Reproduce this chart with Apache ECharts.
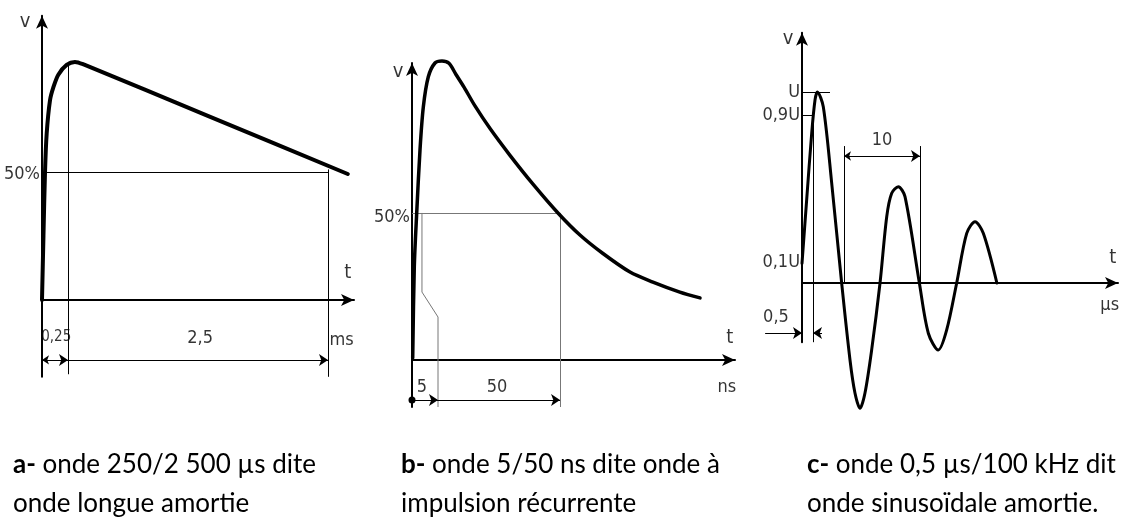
<!DOCTYPE html>
<html>
<head>
<meta charset="utf-8">
<script src="https://cdn.jsdelivr.net/npm/echarts@6/dist/echarts.min.js"></script>
<style>
  html, body { margin: 0; padding: 0; background: #fff; }
  #main { width: 1121px; height: 518px; }
</style>
</head>
<body>
<div id="main"></div>
<script>
// --- onde a : 250/2500 µs (t en ms, v en %)
var tA = [0, 0.014, 0.029, 0.045, 0.077, 0.109, 0.157, 0.237, 0.317, 0.4, 1.6, 2.94];
var vA = [0, 25, 50, 65, 78, 83, 88, 91.8, 93, 92, 71.8, 49.2];
var marksA = [0, 0.25, 2.75];          // 0 / 0,25 / 2,75 ms
var textA = ['0,25', '2,5', 'ms'];

// --- onde b : 5/50 ns (axe schématique, v en %)
var tB = [0.26, 0.85, 1.75, 2.97, 4.2, 6.06, 8.54, 11.14, 13.74, 16.34, 19.32, 23.4, 29.0, 36.4, 44.95, 54.23, 62.4, 70.95, 80.98, 89.5, 99.5, 107];
var vB = [0.7, 31.6, 50, 71.4, 86, 96.3, 101, 101.7, 100.9, 97.1, 92.8, 86.4, 78.7, 69.6, 59.8, 50, 42.5, 36.2, 29.9, 26.5, 23.1, 21.1];
var marksB = [0, 9.66, 55];
var textB = ['5', '50', 'ns'];

// --- onde c : 0,5 µs / 100 kHz (v en U)
var tC = [0, 0.62, 1.29, 1.73, 2.04, 2.83, 3.95, 5.27, 6.38, 7.04, 7.71, 8.37, 9.26, 10.37, 11.26, 11.92, 12.8, 13.69, 15.6, 16.79, 18.12, 19.23, 20.56, 21.89, 23, 24.1, 25.9];
var vC = [0.103, 0.435, 0.785, 0.958, 1.0, 0.923, 0.522, 0, -0.403, -0.576, -0.656, -0.576, -0.35, 0, 0.347, 0.47, 0.504, 0.452, 0, -0.263, -0.351, -0.246, 0, 0.26, 0.321, 0.26, 0];
var marksC = [1.46, 5.58, 15.68];
var levelsC = [1, 0.88, 0.11];
var levelTextC = ['U', '0,9U', '0,1U'];
var textC = ['10', '0,5', 'µs'];

var captions = [
    ['a-', 'onde 250/2 500 µs dite', 'onde longue amortie'],
    ['b-', 'onde 5/50 ns dite onde à', 'impulsion récurrente'],
    ['c-', 'onde 0,5 µs/100 kHz dit', 'onde sinusoïdale amortie.']
];

var fontDiag = '"DejaVu Sans Condensed", "Liberation Sans Narrow", sans-serif';
var fontText = 'Lato, "Open Sans", sans-serif';

var myChart = echarts.init(document.getElementById('main'));

function zip(xs, ys) {
    return xs.map(function (x, i) { return [x, ys[i]]; });
}

function axis(gi, min, max) {
    return {
        type: 'value', gridIndex: gi, min: min, max: max,
        axisLine: { onZero: true, symbol: ['none', 'arrow'], symbolSize: [9, 13], lineStyle: { color: '#000', width: 2 } },
        axisTick: { show: false }, axisLabel: { show: false }, splitLine: { show: false }
    };
}

function curve(gi, xs, ys, w) {
    return {
        type: 'line', xAxisIndex: gi, yAxisIndex: gi, data: zip(xs, ys),
        smooth: 0.3, showSymbol: false, clip: false, silent: true,
        lineStyle: { color: '#000', width: w, cap: 'round', join: 'round' }
    };
}

function guides(gi, segs, color, sym, poly) {
    return {
        type: 'lines', coordinateSystem: 'cartesian2d', xAxisIndex: gi, yAxisIndex: gi,
        polyline: !!poly, clip: false, silent: true,
        symbol: sym || 'none', symbolSize: [7, 9],
        lineStyle: { color: color, width: 1, opacity: 1, curveness: 0 },
        data: segs.map(function (c) { return { coords: c }; })
    };
}

function texts(gi, items, pos, size) {
    return {
        type: 'scatter', xAxisIndex: gi, yAxisIndex: gi, symbolSize: 0, clip: false, silent: true,
        data: items,
        label: {
            show: true, position: pos, distance: 2, color: '#000',
            fontFamily: fontDiag, fontSize: size || 18,
            formatter: function (p) { return p.value[2]; }
        }
    };
}

var option = {
    backgroundColor: '#fff',
    animation: false,
    title: captions.map(function (c, i) {
        return {
            left: [13, 401, 807][i], top: 445, padding: 0,
            text: '{b|' + c[0] + '} ' + c[1] + '\n' + c[2],
            textStyle: {
                fontFamily: fontText, fontSize: 26, fontWeight: 'normal', color: '#000', lineHeight: 39,
                rich: { b: { fontFamily: fontText, fontSize: 26, fontWeight: 'bold', color: '#000', lineHeight: 39 } }
            }
        };
    }),
    grid: [
        { left: 42, top: 15.8, width: 312, height: 361 },
        { left: 412, top: 63, width: 323, height: 344 },
        { left: 802, top: 32.8, width: 316, height: 309.4 }
    ],
    xAxis: [axis(0, 0, 3), axis(1, 0, 120), axis(2, 0, 42)],
    yAxis: [axis(0, -30, 111), axis(1, -16, 101), axis(2, -0.31, 1.31)],
    series: [
        // a
        curve(0, tA, vA, 4),
        guides(0, [
            [[marksA[0], 50], [marksA[2], 50]],
            [[marksA[1], 93], [marksA[1], -29]],
            [[marksA[2], 51], [marksA[2], -30]]
        ], '#000'),
        guides(0, [[[marksA[0], -23.4], [marksA[1], -23.4]]], '#000', ['arrow', 'arrow']),
        guides(0, [[[marksA[1], -23.4], [marksA[2], -23.4]]], '#000', ['none', 'arrow']),
        texts(0, [[0, 49.2, '50%']], 'left'),
        texts(0, [[0.137, -14.5, textA[0]]], 'inside', 15),
        texts(0, [[1.52, -14.8, textA[1]], [2.88, -15.6, textA[2]]], 'inside'),
        texts(0, [[2.94, 10.5, 't'], [-0.163, 108.6, 'v']], 'inside', 20),
        // b
        curve(1, tB, vB, 3.5),
        guides(1, [
            [[marksB[0], 50], [54.3, 50]],
            [[marksB[2], 50], [marksB[2], -16]]
        ], '#777'),
        guides(1, [[[3.7, 50], [3.7, 23.1], [marksB[1], 14.6], [marksB[1], -16]]], '#777', 'none', true),
        guides(1, [[[marksB[0], -13.6], [marksB[1], -13.6]]], '#000', ['circle', 'arrow']),
        guides(1, [[[marksB[1], -13.6], [marksB[2], -13.6]]], '#000', ['none', 'arrow']),
        texts(1, [[0, 48.6, '50%']], 'left'),
        texts(1, [[3.7, -9.2, textB[0]], [31.6, -9.2, textB[1]], [117, -9.2, textB[2]]], 'inside'),
        texts(1, [[118.1, 7.5, 't'], [-5.2, 98, 'v']], 'inside', 20),
        // c
        curve(2, tC, vC, 3),
        guides(2, [
            [[0, levelsC[0]], [3.72, levelsC[0]]],
            [[0, levelsC[1]], [marksC[0], levelsC[1]]],
            [[marksC[0], levelsC[1]], [marksC[0], -0.31]],
            [[marksC[1], 0], [marksC[1], 0.717]],
            [[marksC[2], 0], [marksC[2], 0.717]]
        ], '#000'),
        guides(2, [[[marksC[1], 0.665], [marksC[2], 0.665]]], '#000', ['arrow', 'arrow']),
        guides(2, [
            [[-4.9, -0.262], [0, -0.262]],
            [[2.66, -0.262], [marksC[0], -0.262]]
        ], '#000', ['none', 'arrow']),
        texts(2, levelsC.map(function (l, i) { return [0, l, levelTextC[i]]; }), 'left'),
        texts(2, [[10.63, 0.749, textC[0]], [-3.46, -0.178, textC[1]], [40.9, -0.115, textC[2]]], 'inside'),
        texts(2, [[41.3, 0.13, 't'], [-1.86, 1.28, 'v']], 'inside', 20)
    ]
};

myChart.setOption(option);
</script>
</body>
</html>
